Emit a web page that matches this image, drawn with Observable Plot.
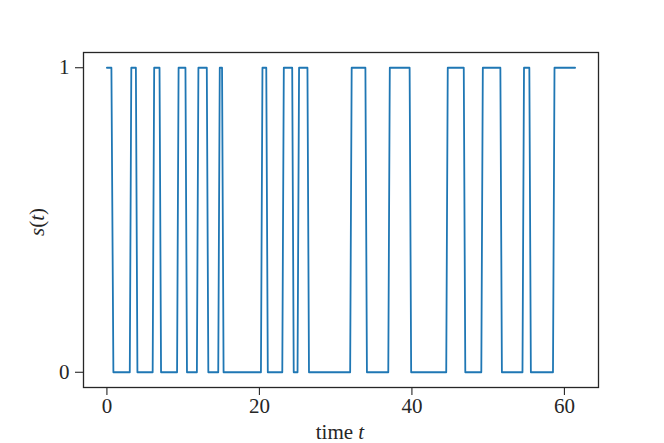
<!DOCTYPE html>
<html>
<head>
<meta charset="utf-8">
<script src="https://cdn.jsdelivr.net/npm/d3@7"></script>
<script src="https://cdn.jsdelivr.net/npm/@observablehq/plot@0.6"></script>
<style>
  html, body { margin: 0; padding: 0; background: #fff; }
  #chart { width: 664px; height: 443px; overflow: hidden; }
</style>
</head>
<body>
<div id="chart"></div>
<script>
// Sampled points of the two-state signal s(t)
const times = [0, 0.59, 0.85, 3.0, 3.2, 3.8, 4.0, 6.0, 6.2, 6.9, 7.1, 9.2, 9.4, 10.3, 10.5, 11.8, 12.0, 13.1, 13.3, 14.6, 14.8, 15.1, 15.3, 20.2, 20.4, 20.9, 21.1, 23.0, 23.2, 24.3, 24.5, 25.0, 25.2, 26.3, 26.5, 31.9, 32.1, 33.9, 34.1, 36.9, 37.1, 39.7, 39.9, 44.5, 44.7, 46.8, 47.0, 49.1, 49.3, 51.6, 51.8, 54.5, 54.7, 55.4, 55.6, 58.5, 58.7, 61.4];
const states = [1, 1, 0, 0, 1, 1, 0, 0, 1, 1, 0, 0, 1, 1, 0, 0, 1, 1, 0, 0, 1, 1, 0, 0, 1, 1, 0, 0, 1, 1, 0, 0, 1, 1, 0, 0, 1, 1, 0, 0, 1, 1, 0, 0, 1, 1, 0, 0, 1, 1, 0, 0, 1, 1, 0, 0, 1, 1];
const xTicks = [0, 20, 40, 60];
const yTicks = [0, 1];

const data = times.map((t, i) => ({t, s: states[i]}));

const plot = Plot.plot({
  width: 664,
  height: 443,
  marginLeft: 83,
  marginRight: 66,
  marginTop: 52,
  marginBottom: 56,
  style: {fontFamily: "'Liberation Serif', serif", fontSize: "21px", color: "#262626", background: "#fff"},
  x: {domain: [-3.07, 64.47], ticks: xTicks, tickFormat: d => String(d), tickSize: 8, tickPadding: 3, label: null},
  y: {domain: [-0.05, 1.05], ticks: yTicks, tickFormat: d => String(d), tickSize: 8, tickPadding: 6, label: null},
  marks: [
    Plot.line(data, {x: "t", y: "s", stroke: "#1f77b4", strokeWidth: 1.8}),
    Plot.frame({stroke: "#262626", strokeWidth: 1.3})
  ]
});

const svg = d3.select(plot);
svg.selectAll("g[aria-label='x-axis tick'] path, g[aria-label='y-axis tick'] path").attr("stroke-width", 1.1);

const xl = svg.append("text")
  .attr("x", 340).attr("y", 439)
  .attr("text-anchor", "middle")
  .attr("fill", "#262626")
  .style("font-family", "'Liberation Serif', serif")
  .style("font-size", "21px");
xl.append("tspan").text("time ");
xl.append("tspan").attr("font-style", "italic").text("t");

const yl = svg.append("text")
  .attr("transform", "translate(44,222) rotate(-90)")
  .attr("text-anchor", "middle")
  .attr("fill", "#262626")
  .style("font-family", "'Liberation Serif', serif")
  .style("font-size", "21px");
yl.append("tspan").attr("font-style", "italic").text("s");
yl.append("tspan").text("(");
yl.append("tspan").attr("font-style", "italic").text("t");
yl.append("tspan").text(")");

document.getElementById("chart").appendChild(plot);
</script>
</body>
</html>
